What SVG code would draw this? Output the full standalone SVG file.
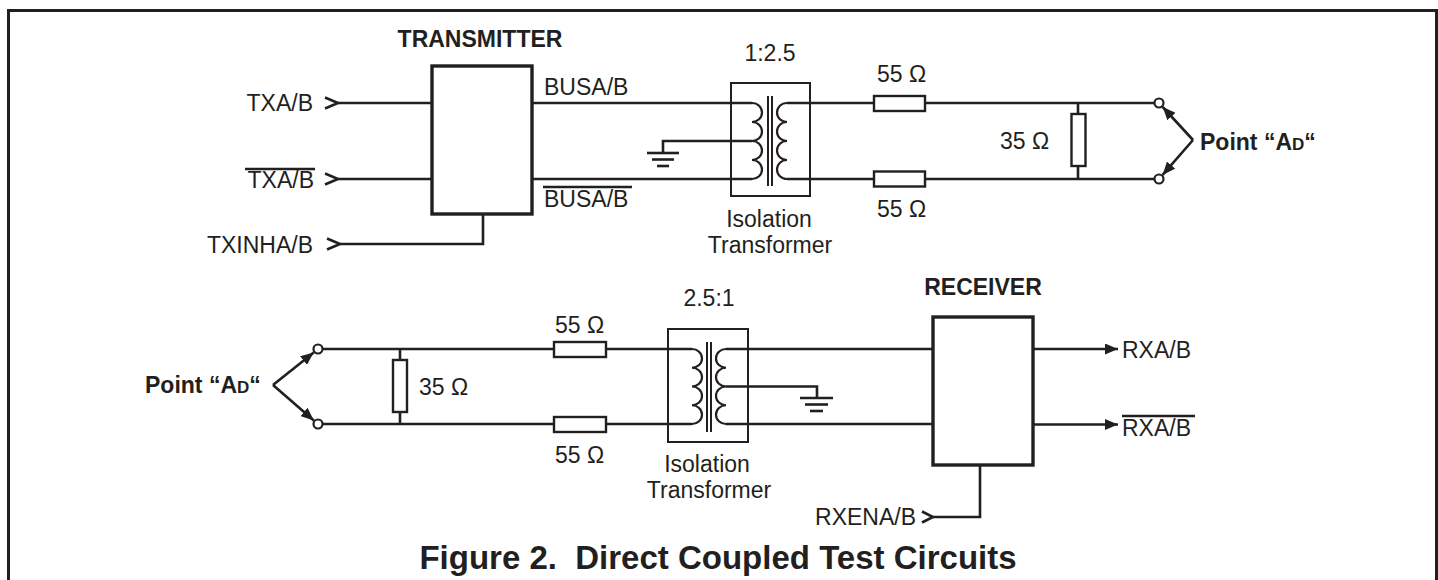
<svg xmlns="http://www.w3.org/2000/svg" width="1438" height="580" viewBox="0 0 1438 580">
<style>
text{font-family:"Liberation Sans",Arial,Helvetica,sans-serif;font-size:23px;fill:#231f20}
.b{font-weight:bold}
.ttl{font-size:33px;white-space:pre}
.sm{font-size:17px}
.w{fill:none;stroke:#231f20;stroke-width:2.6;stroke-linejoin:miter}
.t{fill:none;stroke:#231f20;stroke-width:2}
.box{fill:#fff;stroke:#231f20;stroke-width:3.4}
.res{fill:#fff;stroke:#231f20;stroke-width:2.4}
.tb{fill:none;stroke:#231f20;stroke-width:2.2}
.c{fill:#fff;stroke:#231f20;stroke-width:2.2}
.m{text-anchor:middle}
.e{text-anchor:end}
</style>
<defs>
<marker id="ah" markerUnits="userSpaceOnUse" markerWidth="13" markerHeight="11" refX="13" refY="5.5" orient="auto">
<path d="M0,0 L13,5.5 L0,11 z" fill="#231f20"/>
</marker>
</defs>
<rect width="1438" height="580" fill="#fff"/>
<path id="frame" d="M8.5,580 V10.5 H1436.5 V580" fill="none" stroke="#231f20" stroke-width="3"/>

<g id="connectors">
<path class="w" d="M338,103 H432"/>
<path class="w" d="M338,179 H432"/>
<path class="w" d="M340,244 H483 V214"/>
<path class="w" d="M532,103 H752"/>
<path class="w" d="M532,179 H752"/>
<path class="w" d="M752,141 H663 V153"/>
<path class="w" d="M787,103 H1155"/>
<path class="w" d="M787,179 H1155"/>
<path class="w" d="M1078,103 V179"/>
<path class="w" d="M1193,140 L1162.7,107" marker-end="url(#ah)"/>
<path class="w" d="M1193,140 L1162.6,174.9" marker-end="url(#ah)"/>
<path class="w" d="M322.5,349 H692"/>
<path class="w" d="M322.5,424 H692"/>
<path class="w" d="M400,349 V424"/>
<path class="w" d="M273,385 L313.7,352.4" marker-end="url(#ah)"/>
<path class="w" d="M273,385 L313.8,420.4" marker-end="url(#ah)"/>
<path class="w" d="M726,349 H933"/>
<path class="w" d="M726,424 H933"/>
<path class="w" d="M726,386.5 H817 V398"/>
<path class="w" d="M1033,349 H1118" marker-end="url(#ah)"/>
<path class="w" d="M1033,424.5 H1118" marker-end="url(#ah)"/>
<path class="w" d="M933,517 H980 V465"/>
</g>

<g id="tx-inputs">
<polyline class="w" points="325,97.5 338,103 325,108.5"/>
<polyline class="w" points="325,173.5 338,179 325,184.5"/>
<polyline class="w" points="327,238.5 340,244 327,249.5"/>
<text class="e" x="313" y="111">TXA/B</text>
<text class="e" x="314" y="188">TXA/B</text>
<line class="w" x1="245" y1="169" x2="315" y2="169"/>
<text class="e" x="313" y="253">TXINHA/B</text>
</g>

<g id="transmitter">
<rect class="box" x="432" y="66" width="100" height="148"/>
<text class="b m" x="480" y="47">TRANSMITTER</text>
</g>

<g id="bus-labels">
<text x="544" y="95">BUSA/B</text>
<text x="544" y="207">BUSA/B</text>
<line class="w" x1="543" y1="187" x2="632" y2="187"/>
</g>

<g id="transformer1">
<rect class="t" x="731" y="83" width="79" height="113"/>
<line class="t" x1="768" y1="96" x2="768" y2="186"/>
<line class="t" x1="772" y1="96" x2="772" y2="186"/>
<path class="tb" d="M752,103 a10,9.5 0 0 1 0,19 a10,9.5 0 0 1 0,19 a10,9.5 0 0 1 0,19 a10,9.5 0 0 1 0,19"/>
<path class="tb" d="M787,103 a10,9.5 0 0 0 0,19 a10,9.5 0 0 0 0,19 a10,9.5 0 0 0 0,19 a10,9.5 0 0 0 0,19"/>
<text class="m" x="770" y="61">1:2.5</text>
<text class="m" x="769" y="227">Isolation</text>
<text class="m" x="770" y="253">Transformer</text>
</g>

<g id="ground1">
<line class="w" x1="647" y1="153" x2="679" y2="153"/>
<line class="w" x1="652" y1="159.5" x2="674" y2="159.5"/>
<line class="w" x1="657" y1="166" x2="669" y2="166"/>
</g>

<g id="r55-top-1">
<rect class="res" x="874" y="96" width="51" height="15"/>
<text x="877" y="82">55 Ω</text>
</g>
<g id="r55-top-2">
<rect class="res" x="874" y="171.5" width="51" height="15"/>
<text x="877" y="217">55 Ω</text>
</g>
<g id="r35-top">
<rect class="res" x="1071.5" y="114" width="14" height="52"/>
<text x="1000" y="149">35 Ω</text>
</g>
<g id="point-ad-top">
<circle class="c" cx="1159" cy="103" r="4.5"/>
<circle class="c" cx="1159" cy="179" r="4.5"/>
<text class="b" x="1200" y="150">Point “A<tspan class="sm">D</tspan>“</text>
</g>

<g id="point-ad-bottom">
<circle class="c" cx="318" cy="349" r="4.5"/>
<circle class="c" cx="318" cy="424" r="4.5"/>
<text class="b" x="145" y="393">Point “A<tspan class="sm">D</tspan>“</text>
</g>
<g id="r35-bottom">
<rect class="res" x="393" y="360" width="14" height="52"/>
<text x="419" y="395">35 Ω</text>
</g>
<g id="r55-bottom-1">
<rect class="res" x="554" y="342" width="52" height="15"/>
<text x="555" y="333">55 Ω</text>
</g>
<g id="r55-bottom-2">
<rect class="res" x="554" y="417" width="52" height="15"/>
<text x="555" y="463">55 Ω</text>
</g>

<g id="transformer2">
<rect class="t" x="668" y="329" width="80" height="113"/>
<line class="t" x1="707" y1="342" x2="707" y2="432"/>
<line class="t" x1="711" y1="342" x2="711" y2="432"/>
<path class="tb" d="M692,349 a10,9.375 0 0 1 0,18.75 a10,9.375 0 0 1 0,18.75 a10,9.375 0 0 1 0,18.75 a10,9.375 0 0 1 0,18.75"/>
<path class="tb" d="M726,349 a10,9.375 0 0 0 0,18.75 a10,9.375 0 0 0 0,18.75 a10,9.375 0 0 0 0,18.75 a10,9.375 0 0 0 0,18.75"/>
<text class="m" x="709" y="306">2.5:1</text>
<text class="m" x="707" y="472">Isolation</text>
<text class="m" x="709" y="498">Transformer</text>
</g>

<g id="ground2">
<line class="w" x1="800" y1="398" x2="833" y2="398"/>
<line class="w" x1="805" y1="404.5" x2="828" y2="404.5"/>
<line class="w" x1="810" y1="411" x2="823" y2="411"/>
</g>

<g id="receiver">
<rect class="box" x="933" y="317" width="100" height="148"/>
<text class="b m" x="983" y="295">RECEIVER</text>
</g>

<g id="rx-outputs">
<text x="1122" y="358">RXA/B</text>
<text x="1122" y="436">RXA/B</text>
<line class="w" x1="1122" y1="416" x2="1195" y2="416"/>
</g>

<g id="rxena">
<polyline class="w" points="922,511.5 933,517 922,522.5"/>
<text class="e" x="916" y="525">RXENA/B</text>
</g>

<text id="title" class="b m ttl" x="718" y="569">Figure 2.  Direct Coupled Test Circuits</text>
</svg>
